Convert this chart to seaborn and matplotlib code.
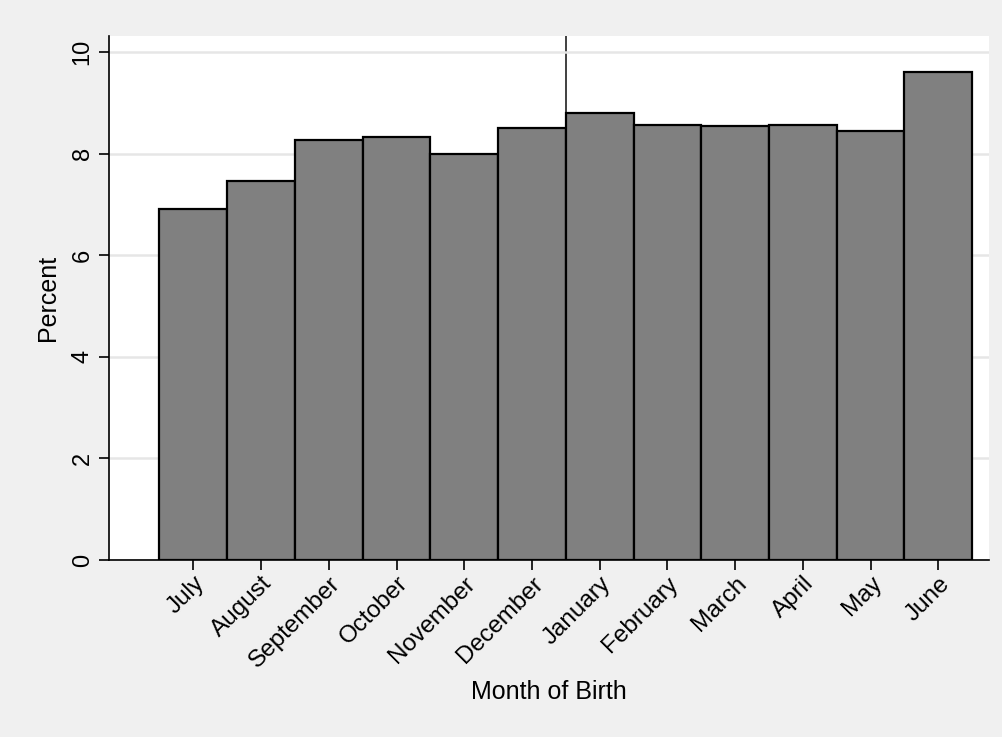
import pandas as pd
import seaborn as sns
import matplotlib.pyplot as plt

# month of birth shares (percent), school-year order
months = ['July', 'August', 'September', 'October', 'November', 'December',
          'January', 'February', 'March', 'April', 'May', 'June']
percent = [6.91, 7.46, 8.27, 8.33, 7.99, 8.51, 8.81, 8.57, 8.54, 8.57, 8.45, 9.61]
yticks = [0, 2, 4, 6, 8, 10]

df = pd.DataFrame({'month': months, 'percent': percent})

sns.set_style('white')
plt.rcParams['font.family'] = ['Liberation Sans', 'DejaVu Sans']
plt.rcParams['text.color'] = 'black'
plt.rcParams['axes.labelcolor'] = 'black'
plt.rcParams['xtick.color'] = 'black'
plt.rcParams['ytick.color'] = 'black'

fig = plt.figure(figsize=(10.02, 7.37), dpi=100, facecolor='#f0f0f0')
ax = fig.add_axes([0.1088, 0.2402, 0.8779, 0.7110])
ax.set_facecolor('white')

# cut-off line between December and January
ax.axvline(5.5, color='#202020', lw=1.2, zorder=0.5)

sns.barplot(data=df, x='month', y='percent', order=months, color='#808080',
            saturation=1, width=1.0, edgecolor='black', linewidth=1.6, ax=ax,
            zorder=2)

ax.set_xlim(-1.245, 11.744)
ax.set_ylim(0, 10.32)
ax.set_yticks(yticks)
ax.set_yticklabels([str(v) for v in yticks], rotation=90, va='center', fontsize=17)
ax.set_xticks(range(len(months)))
ax.set_xticklabels(months, rotation=45, ha='right', rotation_mode='anchor', fontsize=17.5)
ax.tick_params(axis='both', direction='out', length=7, width=1.2, color='black',
               labelcolor='black', left=True, bottom=True, pad=4)
ax.tick_params(axis='x', pad=2)

ax.yaxis.grid(True, color='#e6e6e6', lw=1.8, zorder=0)
ax.set_axisbelow(True)

for s in ['top', 'right']:
    ax.spines[s].set_visible(False)
for s in ['left', 'bottom']:
    ax.spines[s].set_color('black')
    ax.spines[s].set_linewidth(1.2)

ax.set_ylabel('Percent', fontsize=18, color='black')
ax.set_xlabel('Month of Birth', fontsize=18, color='black')
ax.xaxis.set_label_coords(0.5, -0.229)
ax.yaxis.set_label_coords(-0.056, 0.5)

fig.savefig('out.png', dpi=100, facecolor=fig.get_facecolor())
